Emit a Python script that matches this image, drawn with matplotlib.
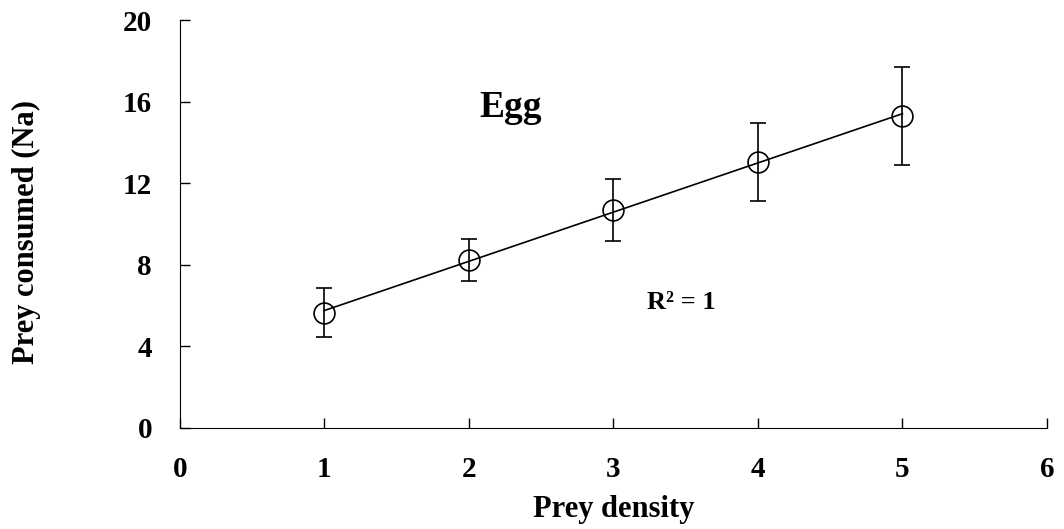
import numpy as np
import matplotlib
matplotlib.use('Agg')
import matplotlib.pyplot as plt

plt.rcParams['font.family'] = ['Liberation Serif', 'DejaVu Serif']
plt.rcParams['font.weight'] = 'bold'

density = np.array([1, 2, 3, 4, 5])
consumed = np.array([5.64, 8.24, 10.69, 13.05, 15.30])
err = np.array([1.2, 1.05, 1.5, 1.9, 2.4])

fig = plt.figure(figsize=(10.64, 5.29), dpi=100)
ax = fig.add_axes([0.169, 0.191, 0.815, 0.771])

# trend line
coef = np.polyfit(density, consumed, 1)
ax.plot(density, np.polyval(coef, density), color='black', lw=1.2)

ax.errorbar(density, consumed, yerr=err, fmt='o', mfc='none', mec='black',
            ms=15, mew=1.2, ecolor='black', elinewidth=1.2, capsize=6,
            capthick=1.2)

ax.set_xlim(0, 6)
ax.set_ylim(0, 20)
ax.set_xticks(np.arange(0, 7, 1))
ax.set_yticks(np.arange(0, 21, 4))
ax.spines['top'].set_visible(False)
ax.spines['right'].set_visible(False)
ax.tick_params(direction='in', length=7, width=1, labelsize=21, pad=20)
for lab in ax.get_xticklabels() + ax.get_yticklabels():
    lab.set_fontweight('bold')

ax.set_xlabel('Prey density', fontsize=22, fontweight='bold', va='center')
ax.set_ylabel('Prey consumed (Na)', fontsize=22, fontweight='bold', va='center')
ax.xaxis.set_label_coords(0.5, -0.20)
ax.yaxis.set_label_coords(-0.1765, 0.48)

ax.text(2.29, 15.25, 'Egg', fontsize=27, fontweight='bold', ha='center', va='baseline')
ax.text(3.47, 5.83, 'R² = 1', fontsize=19, fontweight='bold', ha='center', va='baseline')

plt.savefig('out.png', dpi=100)
